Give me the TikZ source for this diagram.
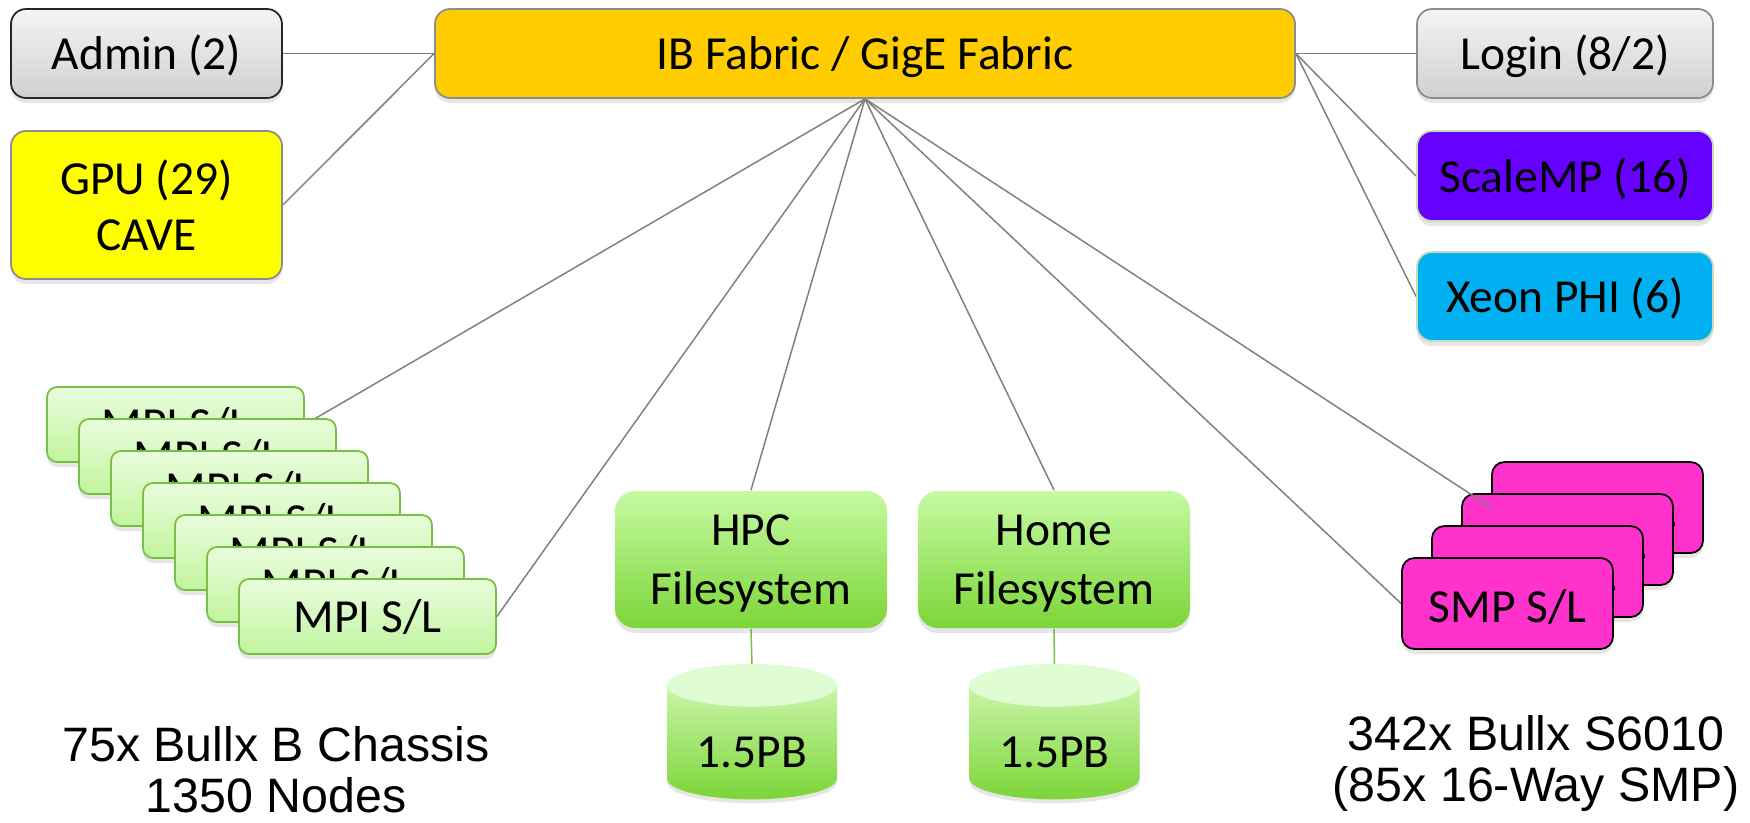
\documentclass[tikz,border=0pt]{standalone}
\usepackage{fontspec}
\setmainfont{Carlito}
\newfontfamily\captionfont{Liberation Sans}
\usetikzlibrary{shapes.geometric}
\usetikzlibrary{shadows}
\usetikzlibrary{backgrounds}
\usetikzlibrary{calc}
\definecolor{fabricfill}{HTML}{FFCC00}
\definecolor{gpufill}{HTML}{FFFF00}
\definecolor{scalempfill}{HTML}{6600FF}
\definecolor{xeonfill}{HTML}{00B0F0}
\definecolor{smpfill}{HTML}{FF33CC}
\definecolor{greytop}{HTML}{F4F4F4}
\definecolor{greybot}{HTML}{D0D0D0}
\definecolor{mpitop}{HTML}{E9FCDD}
\definecolor{mpibot}{HTML}{C0F59E}
\definecolor{mpiline}{HTML}{78C043}
\definecolor{fstop}{HTML}{C6FAA2}
\definecolor{fsbot}{HTML}{7CD538}
\definecolor{disktop}{HTML}{E0FCD2}
\definecolor{wirecol}{HTML}{808080}
\definecolor{edgecol}{HTML}{8C8C8C}
\definecolor{paleedge}{HTML}{C6DDB5}
\tikzstyle{unit}=[draw=edgecol, line width=1pt, rounded corners=0.3cm, minimum width=5.42cm, minimum height=1.78cm, inner sep=0pt, align=center, font=\fontsize{27}{32}\selectfont, drop shadow={shadow xshift=0pt, shadow yshift=-0.1cm, opacity=0.2}]
\tikzstyle{oneline}=[text height=22pt, text depth=3.5pt]
\tikzstyle{greyunit}=[unit, oneline, top color=greytop, bottom color=greybot]
\tikzstyle{mpi}=[unit, oneline, draw=mpiline, rounded corners=0.2cm, minimum width=5.14cm, minimum height=1.5cm, top color=mpitop, bottom color=mpibot]
\tikzstyle{smp}=[unit, draw=black, fill=smpfill, text height=24pt, text depth=2.6pt, rounded corners=0.25cm, minimum width=4.22cm, minimum height=1.82cm]
\tikzstyle{fs}=[unit, draw=none, rounded corners=0.4cm, minimum width=5.44cm, minimum height=2.74cm, text depth=-4pt, top color=fstop, bottom color=fsbot, font=\fontsize{27}{33.5}\selectfont]
\tikzstyle{disk}=[cylinder, shape border rotate=90, aspect=0.38, minimum width=3.4cm, minimum height=2.7cm, inner sep=0pt, text height=28pt, text depth=0pt, top color=fstop!70!white, bottom color=fsbot, font=\fontsize{27}{32}\selectfont, drop shadow={shadow xshift=0pt, shadow yshift=-0.08cm, opacity=0.2}]
\tikzstyle{wire}=[draw=wirecol, line width=0.85pt]
\tikzstyle{diskwire}=[draw=mpiline, line width=0.85pt]
\tikzstyle{caption}=[align=center, font=\captionfont\fontsize{27.5}{29}\selectfont]

\begin{document}
\begin{tikzpicture}
    \useasboundingbox (0,0) rectangle (35,-16.44);
    \node[greyunit, draw=black!85] (admin) at (2.93,-1.07) {Admin (2)};
    \node[unit, fill=gpufill, minimum height=2.96cm] (gpu) at (2.93,-4.10) {GPU (29)\\CAVE};
    \node[unit, oneline, fill=fabricfill, minimum width=17.2cm] (fabric) at (17.30,-1.07) {IB Fabric / GigE Fabric};
    \node[greyunit, minimum width=5.92cm] (login) at (31.30,-1.07) {Login (8/2)};
    \node[unit, oneline, draw=paleedge, fill=scalempfill, minimum width=5.92cm, minimum height=1.80cm] (scalemp) at (31.30,-3.52) {ScaleMP (16)};
    \node[unit, oneline, draw=paleedge, fill=xeonfill, minimum width=5.92cm] (xeon) at (31.30,-5.93) {Xeon PHI (6)};
    % compute stacks
    \foreach \i in {1,...,7}
        \node[mpi] (mpi\i) at ({3.51+0.64*(\i-1)}, {-8.49-0.64*(\i-1)}) {MPI S/L};
    \foreach \i in {4,3,2,1}
        \node[smp] (smp\i) at ({30.15+0.6*(\i-1)}, {-12.07+0.64*(\i-1)}) {SMP S/L};
    % storage
    \node[fs] (hpc) at (15.02,-11.19) {HPC\\Filesystem};
    \node[fs] (home) at (21.08,-11.19) {Home\\Filesystem};
    \node[disk] (hpcdisk) at (15.04,-14.85) {1.5PB};
    \node[disk] (homedisk) at (21.09,-14.85) {1.5PB};
    \foreach \d in {hpcdisk,homedisk}
        \fill[disktop] let \p1=(\d.before top), \p2=(\d.after top), \p3=(\d.top) in
            ($(\p1)!0.5!(\p2)$) ellipse ({abs(\x2-\x1)/2} and {abs(\y3-\y1)});
    \node[caption] (bladecap) at (5.52,-15.4) {75x Bullx B Chassis\\1350 Nodes};
    \node[caption] (smpcap) at (30.72,-15.27) {342x Bullx S6010\\(85x 16-Way SMP)};
    \begin{scope}[on background layer]
        \draw[wire] (admin.east) -- (fabric.west);
        \draw[wire] (gpu.east) -- (fabric.west);
        \foreach \n in {login,scalemp,xeon}
            \draw[wire] (fabric.east) -- (\n.west);
        \foreach \n in {mpi1,mpi7}
            \draw[wire] (fabric.south) -- (\n.east);
        \foreach \n in {hpc,home}
            \draw[wire] (fabric.south) -- (\n.north);
        \draw[wire] (fabric.south) -- (smp1.west);
        \draw[diskwire] (hpc.south) -- (hpcdisk.north);
        \draw[diskwire] (home.south) -- (homedisk.north);
    \end{scope}
    \draw[wire] (fabric.south) -- (smp4.west);
\end{tikzpicture}
\end{document}
